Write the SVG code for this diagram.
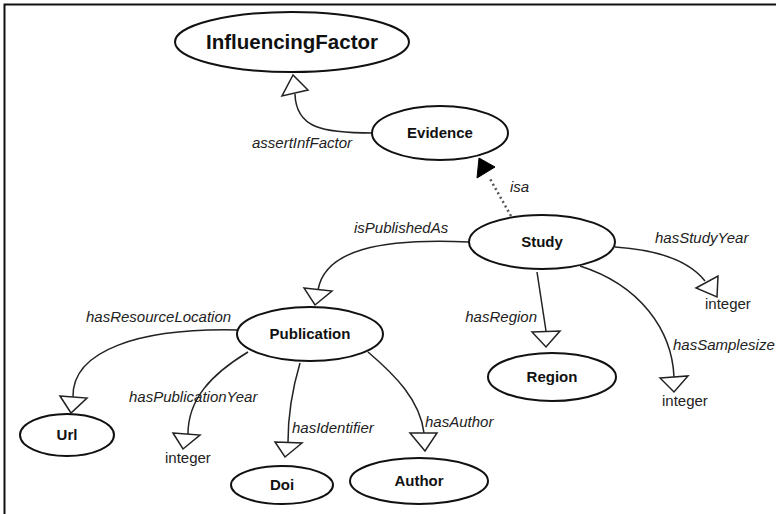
<svg xmlns="http://www.w3.org/2000/svg" width="776" height="514" viewBox="0 0 776 514">
<style>
.node ellipse{fill:#fff;stroke:#111;stroke-width:2}
.node text{font-family:"Liberation Sans",Arial,sans-serif;font-weight:bold;font-size:15px;fill:#111;text-anchor:middle}
.edge{fill:none;stroke:#222;stroke-width:1.5}
.head{fill:#fff;stroke:#222;stroke-width:1.5;stroke-linejoin:miter}
.lbl{font-family:"Liberation Sans",Arial,sans-serif;font-style:italic;font-size:15px;fill:#222}
.dt{font-family:"Liberation Sans",Arial,sans-serif;font-size:15px;fill:#222}
</style>
<rect width="776" height="514" fill="#fff"/>
<path d="M4.5,514 V4.5 H776" fill="none" stroke="#111" stroke-width="2"/>
<g id="connectors">
<path class="edge" d="M373,133 C322,133 296,128 295,94"/>
<polygon class="head" points="293,75 282,96 308,90"/>
<path d="M511,216 L489,177" fill="none" stroke="#555" stroke-width="2.5" stroke-dasharray="2,3"/>
<polygon points="477,178 479,158 495,167" fill="#000" stroke="#000" stroke-width="1"/>
<path class="edge" d="M469,242 C380,238 325,250 318,290"/>
<polygon class="head" points="304,288 332,291 315,305"/>
<path class="edge" d="M615,247 C660,250 690,262 705,281"/>
<polygon class="head" points="696,288 718,276 717,297"/>
<path class="edge" d="M537,272 L546,331"/>
<polygon class="head" points="532,332 560,331 546,347"/>
<path class="edge" d="M580,266 C640,285 672,330 674,377"/>
<polygon class="head" points="660,378 688,376 674,392"/>
<path class="edge" d="M237,330 C140,328 72,350 73,397"/>
<polygon class="head" points="60,396 87,398 71,413"/>
<path class="edge" d="M248,352 C210,375 188,400 188,434"/>
<polygon class="head" points="173,433 200,435 183,449"/>
<path class="edge" d="M300,363 C292,390 288,415 288,442"/>
<polygon class="head" points="275,442 302,443 285,457"/>
<path class="edge" d="M368,352 C395,375 420,400 424,433"/>
<polygon class="head" points="410,433 437,433 425,451"/>
<text class="lbl" x="252" y="148">assertInfFactor</text>
<text class="lbl" x="510" y="192">isa</text>
<text class="lbl" x="354" y="233">isPublishedAs</text>
<text class="lbl" x="655" y="243">hasStudyYear</text>
<text class="lbl" x="537" y="322" text-anchor="end">hasRegion</text>
<text class="lbl" x="673" y="350">hasSamplesize</text>
<text class="lbl" x="86" y="322">hasResourceLocation</text>
<text class="lbl" x="129" y="402">hasPublicationYear</text>
<text class="lbl" x="292" y="433">hasIdentifier</text>
<text class="lbl" x="425" y="427">hasAuthor</text>
<text class="dt" x="705" y="309">integer</text>
<text class="dt" x="662" y="406">integer</text>
<text class="dt" x="165" y="463">integer</text>
</g>
<g id="InfluencingFactor" class="node"><ellipse cx="292" cy="42" rx="117" ry="30"/><text x="292" y="49" style="font-size:20.5px">InfluencingFactor</text></g>
<g id="Evidence" class="node"><ellipse cx="440" cy="133" rx="68" ry="27"/><text x="440" y="138">Evidence</text></g>
<g id="Study" class="node"><ellipse cx="542" cy="242" rx="73" ry="27"/><text x="542" y="247">Study</text></g>
<g id="Publication" class="node"><ellipse cx="310" cy="334" rx="73" ry="27"/><text x="310" y="339">Publication</text></g>
<g id="Region" class="node"><ellipse cx="552" cy="377" rx="64" ry="24"/><text x="552" y="382">Region</text></g>
<g id="Url" class="node"><ellipse cx="67" cy="435" rx="47" ry="21"/><text x="67" y="440">Url</text></g>
<g id="Doi" class="node"><ellipse cx="282" cy="485" rx="51" ry="19"/><text x="282" y="490">Doi</text></g>
<g id="Author" class="node"><ellipse cx="419" cy="481" rx="69" ry="23"/><text x="419" y="486">Author</text></g>
</svg>
